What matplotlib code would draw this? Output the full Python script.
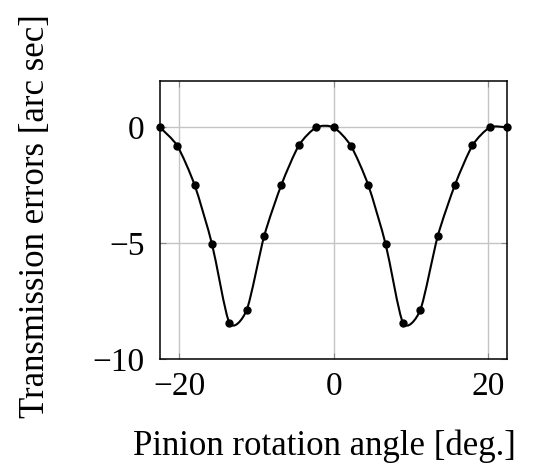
import numpy as np
import matplotlib
matplotlib.use("Agg")
import matplotlib.pyplot as plt
from matplotlib.path import Path
from matplotlib.patches import PathPatch

plt.rcParams['font.family'] = ['Liberation Serif', 'DejaVu Serif']
plt.rcParams['font.size'] = 24

# pinion angle [deg.] and transmission error [arc sec]
angle = [-22.5, -20.25, -18.0, -15.75, -13.5, -11.25, -9.0, -6.75, -4.5, -2.25, 0.0,
         2.25, 4.5, 6.75, 9.0, 11.25, 13.5, 15.75, 18.0, 20.25, 22.5]
te = [0.0, -0.8, -2.5, -5.05, -8.45, -7.88, -4.7, -2.47, -0.78, 0.0, 0.0,
      -0.8, -2.5, -5.05, -8.45, -7.88, -4.7, -2.47, -0.78, 0.0, 0.0]

xticks = [-20, 0, 20]
yticks = [0, -5, -10]


def smooth_path(x, y, k=0.12):
    # cubic bezier through the points, like tikz "smooth"
    p = np.column_stack([x, y])
    n = len(p)
    verts = [p[0]]
    codes = [Path.MOVETO]
    for i in range(n - 1):
        a = p[i - 1] if i > 0 else p[i]
        d = p[i + 2] if i + 2 < n else p[i + 1]
        c1 = p[i] + (p[i + 1] - a) * k
        c2 = p[i + 1] - (d - p[i]) * k
        verts += [c1, c2, p[i + 1]]
        codes += [Path.CURVE4] * 3
    return Path(verts, codes)


fig = plt.figure(figsize=(5.35, 4.66), dpi=100)
ax = fig.add_axes([0.299, 0.230, 0.649, 0.596])

ax.add_patch(PathPatch(smooth_path(angle, te), fill=False, ec='black', lw=1.5, zorder=3,
                       clip_on=False))
ax.plot(angle, te, 'o', color='black', ms=5, zorder=4, clip_on=False)

ax.set_xlim(-22.5, 22.5)
ax.set_ylim(-10, 2)
ax.set_xticks(xticks)
ax.set_yticks(yticks)
ax.grid(True, color='#c4c4c4', lw=1.0)
ax.set_axisbelow(True)
ax.tick_params(direction='in', length=4, color='#888888', top=True, right=True)
ax.tick_params(axis='y', pad=11)
ax.tick_params(axis='x', pad=9)
for s in ax.spines.values():
    s.set_linewidth(1.1)

ax.set_xlabel('Pinion rotation angle [deg.]', fontsize=25, va='baseline')
ax.set_ylabel('Transmission errors [arc sec]', fontsize=25)
ax.xaxis.set_label_coords(0.475, -0.345)
ax.yaxis.set_label_coords(-0.31, 0.515)

fig.savefig('out.png', dpi=100)
